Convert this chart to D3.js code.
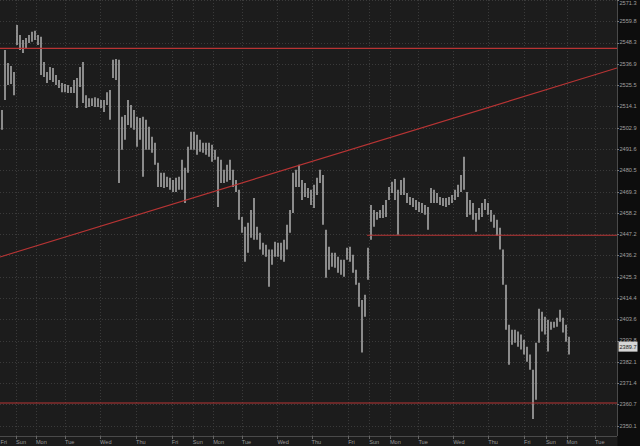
<!DOCTYPE html>
<html><head><meta charset="utf-8">
<script src="https://cdn.jsdelivr.net/npm/d3@7"></script>
<style>html,body{margin:0;padding:0;background:#1c1c1c;overflow:hidden}svg{display:block}</style>
</head><body><svg id="c" width="640" height="446"></svg>
<script>
const highs = [
2512.2,2544.3,2537.3,2535.7,2532.5,2557.8,2552.4,2549.7,2550.8,2552.4,
2554.1,2554.6,2552.4,2551.4,2537.9,2532.5,2535.2,2534.6,2530.9,2528.2,
2526.6,2526.0,2525.5,2524.4,2528.2,2529.3,2535.2,2537.9,2520.1,2518.5,
2518.5,2519.0,2518.5,2517.5,2517.5,2521.7,2522.8,2539.0,2539.5,2539.0,
2508.6,2509.6,2517.5,2514.9,2512.2,2508.6,2508.0,2508.6,2507.0,2503.3,
2498.0,2494.9,2484.4,2479.1,2479.1,2477.0,2476.5,2475.4,2476.5,2477.0,
2485.9,2481.7,2492.8,2500.7,2500.7,2499.1,2496.5,2494.9,2494.9,2494.9,
2493.8,2491.2,2487.5,2485.9,2480.7,2483.3,2485.9,2480.7,2475.4,2470.2,
2456.1,2451.0,2453.1,2459.7,2466.0,2451.0,2447.9,2442.8,2441.7,2439.2,
2439.2,2443.3,2442.8,2442.8,2444.3,2452.0,2459.7,2479.1,2480.7,2483.3,
2475.4,2473.8,2471.2,2470.2,2472.8,2476.5,2480.7,2478.0,2449.4,2440.7,
2437.6,2437.6,2435.5,2434.0,2434.0,2440.2,2440.7,2436.6,2428.9,2422.2,
2413.4,2416.0,2440.2,2462.3,2459.7,2458.7,2459.7,2462.3,2464.9,2471.7,
2474.4,2475.9,2470.2,2475.4,2476.5,2468.6,2466.5,2466.0,2464.9,2463.9,
2463.4,2462.3,2461.3,2471.2,2470.2,2468.6,2466.5,2466.0,2466.0,2466.5,
2467.5,2470.2,2472.8,2478.0,2487.5,2469.1,2464.9,2463.4,2458.2,2460.8,
2463.4,2465.4,2463.4,2459.7,2457.2,2454.6,2450.5,2439.2,2421.1,2400.8,
2398.3,2398.3,2397.3,2395.8,2393.2,2389.7,2385.7,2378.1,2391.7,2408.9,
2407.4,2404.8,2403.3,2402.3,2402.3,2404.3,2408.4,2404.3,2400.8,2394.7];
const lows = [
2501.7,2517.5,2525.5,2526.0,2520.1,2547.0,2544.3,2542.7,2545.4,2548.1,
2548.7,2549.7,2547.0,2530.9,2529.8,2526.6,2528.2,2527.1,2525.5,2523.9,
2521.7,2521.7,2521.2,2521.2,2521.2,2513.3,2524.4,2515.9,2513.3,2513.8,
2514.3,2513.8,2513.8,2513.3,2511.2,2514.9,2507.0,2529.3,2528.2,2473.8,
2491.2,2496.5,2504.3,2502.8,2501.7,2492.8,2496.5,2477.0,2491.2,2491.2,
2489.6,2483.3,2471.7,2471.7,2471.2,2471.7,2470.2,2469.1,2469.1,2470.2,
2470.2,2463.4,2479.1,2491.2,2491.2,2488.6,2490.1,2489.6,2488.6,2487.5,
2484.9,2485.9,2461.3,2473.8,2473.8,2474.4,2475.4,2471.7,2469.1,2454.6,
2447.9,2433.0,2437.6,2445.3,2444.3,2444.3,2439.2,2436.6,2435.5,2420.1,
2431.4,2435.5,2435.5,2434.0,2433.0,2439.2,2447.9,2458.2,2471.7,2471.7,
2464.9,2466.5,2466.0,2462.3,2460.8,2467.5,2473.8,2452.0,2424.7,2428.9,
2430.4,2429.9,2427.3,2426.3,2425.2,2434.0,2433.0,2427.3,2421.1,2409.9,
2386.7,2404.8,2423.7,2444.3,2451.0,2454.6,2455.6,2455.6,2456.1,2464.9,
2468.6,2464.9,2446.9,2467.5,2467.5,2463.4,2462.3,2461.3,2459.7,2458.7,
2458.2,2457.2,2449.4,2463.4,2463.4,2463.4,2462.3,2461.8,2461.3,2462.3,
2463.4,2464.9,2466.5,2469.1,2470.2,2456.1,2457.2,2454.6,2448.4,2454.6,
2456.1,2459.7,2457.2,2453.6,2450.5,2446.4,2439.2,2421.1,2398.3,2380.6,
2390.7,2391.7,2389.7,2388.2,2385.7,2382.1,2378.1,2353.4,2363.0,2391.7,
2397.3,2395.8,2387.2,2398.3,2399.3,2399.8,2402.3,2396.8,2392.2,2385.7];
const priceTicks = [2571.3,2559.8,2548.3,2536.9,2525.5,2514.1,2502.9,2491.6,2480.5,2469.3,2458.2,
  2447.2,2436.2,2425.3,2414.4,2403.6,2392.8,2382.1,2371.4,2360.7,2350.1];
const dayLabels = ["Fri","Sun","Mon","Tue","Wed","Thu","Fri","Sun","Mon","Tue","Wed","Thu",
  "Fri","Sun","Mon","Tue","Wed","Thu","Fri","Sun","Mon","Tue"];
const dayStarts = [-2.7,4.7,11.3,21,32.7,44.7,56.6,63.6,70.4,79.9,91.8,103.2,
  115.4,122.4,129.3,138.8,150.4,162.1,174,181.3,188.2,197.7];
const levels = [{from:-1, value:2545.2},{from:121.7, value:2446.6},{from:-1, value:2361.4}];
const trend = [{i:-0.67, value:2435.4},{i:205, value:2534.6}];
const lastPrice = 2389.7;

const W=640,H=446,PR=617,PB=436;
const svg=d3.select("#c");
const x=d3.scaleLinear().domain([0,189]).range([2,569]);
const y=d3.scaleLog().domain([2345.0,2571.3]).range([PB,0]);
const font="'Liberation Sans', Arial, sans-serif";

svg.append("rect").attr("width",W).attr("height",H).attr("fill","#1c1c1c");
svg.append("rect").attr("x",PR+0.5).attr("width",W-PR).attr("height",H).attr("fill","#0d0d0d");
svg.append("defs").append("clipPath").attr("id","clip").append("rect").attr("width",PR).attr("height",PB);
const plot=svg.append("g").attr("clip-path","url(#clip)");

// grid
plot.selectAll("line.hg").data(priceTicks).join("line").attr("class","hg")
  .attr("x1",0).attr("x2",PR).attr("y1",d=>Math.round(y(d))+0.5).attr("y2",d=>Math.round(y(d))+0.5)
  .attr("stroke","#3a3a3a").attr("stroke-dasharray","1,2");
plot.selectAll("line.vg").data(dayStarts).join("line").attr("class","vg")
  .attr("y1",0).attr("y2",PB).attr("x1",d=>Math.round(x(d))+0.5).attr("x2",d=>Math.round(x(d))+0.5)
  .attr("stroke","#3a3a3a").attr("stroke-dasharray","1,2");

// bars
const bars=d3.range(highs.length);
plot.selectAll("line.bar").data(bars).join("line").attr("class","bar")
  .attr("x1",i=>x(i)).attr("x2",i=>x(i))
  .attr("y1",i=>y(highs[i])).attr("y2",i=>y(lows[i]))
  .attr("stroke","#b0b0b0").attr("stroke-width",1.5);

// red lines
const red="#b83434";
plot.selectAll("line.lvl").data(levels).join("line").attr("class","lvl")
  .attr("x1",d=>Math.max(0,x(d.from))).attr("x2",PR)
  .attr("y1",d=>y(d.value)).attr("y2",d=>y(d.value))
  .style("stroke",red).attr("stroke-width",1.2);
plot.append("path").datum(trend)
  .attr("d",d3.line().x(d=>x(d.i)).y(d=>y(d.value)))
  .style("stroke",red).attr("stroke-width",1.1).attr("fill","none");

// axes lines
svg.append("line").attr("x1",PR+0.5).attr("x2",PR+0.5).attr("y1",0).attr("y2",PB).attr("stroke","#4a4a4a");
svg.append("line").attr("x1",0).attr("x2",PR).attr("y1",PB+0.5).attr("y2",PB+0.5).attr("stroke","#4a4a4a");

// y ticks
const yg=svg.append("g");
yg.selectAll("line").data(priceTicks).join("line")
  .attr("x1",PR).attr("x2",PR+2).attr("y1",d=>Math.round(y(d))+0.5).attr("y2",d=>Math.round(y(d))+0.5)
  .attr("stroke","#777");
yg.selectAll("text").data(priceTicks).join("text")
  .attr("x",PR+2.5).attr("y",d=>Math.max(y(d),3.2)).attr("dy","0.35em")
  .attr("font-family",font).attr("font-size",5.6).attr("fill","#a0a0a0")
  .text(d=>d.toFixed(1));

// x ticks
const xg=svg.append("g");
xg.selectAll("line").data(dayStarts).join("line")
  .attr("x1",d=>Math.round(x(d))+0.5).attr("x2",d=>Math.round(x(d))+0.5).attr("y1",PB).attr("y2",PB+3)
  .attr("stroke","#666");
xg.selectAll("text").data(dayStarts).join("text")
  .attr("x",d=>Math.max(x(d),0.5)).attr("y",PB+7.5)
  .attr("font-family",font).attr("font-size",5.6).attr("fill","#9a9a9a")
  .text((d,i)=>dayLabels[i]);

// last price tag
const ly=y(lastPrice);
svg.append("rect").attr("x",PR+1.5).attr("y",ly-5).attr("width",19).attr("height",10)
  .attr("fill","#d6d6d6");
svg.append("text").attr("x",PR+2.5).attr("y",ly).attr("dy","0.35em")
  .attr("font-family",font).attr("font-size",5.6).attr("fill","#222")
  .text(lastPrice.toFixed(1));
</script></body></html>
